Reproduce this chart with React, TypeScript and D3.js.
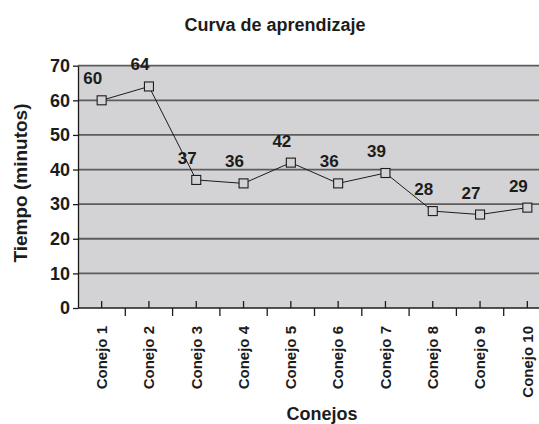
import { useEffect, useRef } from 'react';
import * as d3 from 'd3';

// chart data
const conejos = ['Conejo 1', 'Conejo 2', 'Conejo 3', 'Conejo 4', 'Conejo 5', 'Conejo 6', 'Conejo 7', 'Conejo 8', 'Conejo 9', 'Conejo 10'];
const tiempos = [60, 64, 37, 36, 42, 36, 39, 28, 27, 29];
const yTicks = [0, 10, 20, 30, 40, 50, 60, 70];

const App = () => {
  const chartRef = useRef<HTMLDivElement>(null);

  useEffect(() => {
    d3.select(chartRef.current).selectAll('*').remove();

    const width = 539;
    const height = 424;
    const left = 78;
    const right = 551;
    const top = 65.7;
    const bottom = 308;
    const font = 'Arial, "Liberation Sans", sans-serif';
    const ink = '#1c1c1c';

    const svg = d3.select(chartRef.current)
      .append('svg')
      .attr('width', width)
      .attr('height', height)
      .style('display', 'block')
      .style('background', '#fff');

    // scales
    const x = d3.scaleBand().domain(conejos).range([left, right]);
    const y = d3.scaleLinear().domain([0, 70]).range([bottom, top]);

    // plot area
    svg.append('rect')
      .attr('x', left)
      .attr('y', top)
      .attr('width', right - left)
      .attr('height', bottom - top)
      .attr('fill', '#d3d3d5');

    // gridlines
    svg.append('g')
      .selectAll('line')
      .data(yTicks.filter(d => d > 0))
      .join('line')
      .attr('x1', left)
      .attr('x2', right)
      .attr('y1', d => y(d))
      .attr('y2', d => y(d))
      .attr('stroke', '#5c5c5c')
      .attr('stroke-width', 1.8);

    // y axis
    const yAxis = svg.append('g')
      .attr('transform', `translate(${left},0)`)
      .call(d3.axisLeft(y).tickValues(yTicks).tickSize(5).tickPadding(3).tickSizeOuter(0));
    yAxis.select('.domain').attr('stroke', ink).attr('stroke-width', 1.3);
    yAxis.selectAll('.tick line').attr('stroke', ink).attr('stroke-width', 1.3);
    yAxis.selectAll('.tick text')
      .attr('fill', ink)
      .attr('font-family', font)
      .attr('font-weight', 'bold')
      .attr('font-size', 18);

    // x axis baseline with ticks at the band edges
    svg.append('line')
      .attr('x1', left)
      .attr('x2', right)
      .attr('y1', bottom)
      .attr('y2', bottom)
      .attr('stroke', ink)
      .attr('stroke-width', 1.3);
    svg.append('g')
      .selectAll('line')
      .data(conejos.slice(1))
      .join('line')
      .attr('x1', d => x(d))
      .attr('x2', d => x(d))
      .attr('y1', bottom)
      .attr('y2', bottom + 8)
      .attr('stroke', ink)
      .attr('stroke-width', 1.3);
    // small ticks at band centres, inside the plot
    svg.append('g')
      .selectAll('line')
      .data(conejos)
      .join('line')
      .attr('x1', d => x(d) + x.bandwidth() / 2)
      .attr('x2', d => x(d) + x.bandwidth() / 2)
      .attr('y1', bottom - 7)
      .attr('y2', bottom)
      .attr('stroke', ink)
      .attr('stroke-width', 1.3);

    // x labels, rotated
    svg.append('g')
      .selectAll('text')
      .data(conejos)
      .join('text')
      .attr('transform', d => `translate(${x(d) + x.bandwidth() / 2},326) rotate(-90)`)
      .attr('text-anchor', 'end')
      .attr('dy', '0.35em')
      .attr('fill', ink)
      .attr('font-family', font)
      .attr('font-weight', 'bold')
      .attr('font-size', 15)
      .text(d => d);

    // line
    const line = d3.line<number>()
      .x((d, i) => x(conejos[i]) + x.bandwidth() / 2)
      .y(d => y(d));
    svg.append('path')
      .datum(tiempos)
      .attr('fill', 'none')
      .attr('stroke', ink)
      .attr('stroke-width', 1)
      .attr('d', line);

    // square markers
    svg.append('g')
      .selectAll('rect')
      .data(tiempos)
      .join('rect')
      .attr('x', (d, i) => x(conejos[i]) + x.bandwidth() / 2 - 4.5)
      .attr('y', d => y(d) - 4.5)
      .attr('width', 9)
      .attr('height', 9)
      .attr('fill', '#d3d3d5')
      .attr('stroke', ink)
      .attr('stroke-width', 1.1);

    // value labels
    svg.append('g')
      .selectAll('text')
      .data(tiempos)
      .join('text')
      .attr('x', (d, i) => x(conejos[i]) + x.bandwidth() / 2 - 9)
      .attr('y', d => y(d) - 16)
      .attr('text-anchor', 'middle')
      .attr('fill', ink)
      .attr('font-family', font)
      .attr('font-weight', 'bold')
      .attr('font-size', 17)
      .text(d => d);

    // titles
    svg.append('text')
      .attr('x', 275)
      .attr('y', 31)
      .attr('text-anchor', 'middle')
      .attr('fill', ink)
      .attr('font-family', font)
      .attr('font-weight', 'bold')
      .attr('font-size', 18)
      .text('Curva de aprendizaje');
    svg.append('text')
      .attr('x', 322)
      .attr('y', 420)
      .attr('text-anchor', 'middle')
      .attr('fill', ink)
      .attr('font-family', font)
      .attr('font-weight', 'bold')
      .attr('font-size', 18)
      .text('Conejos');
    svg.append('text')
      .attr('transform', 'translate(27,183) rotate(-90)')
      .attr('text-anchor', 'middle')
      .attr('fill', ink)
      .attr('font-family', font)
      .attr('font-weight', 'bold')
      .attr('font-size', 19)
      .text('Tiempo (minutos)');
  }, []);

  return (
    <div ref={chartRef} style={{ position: 'absolute', left: 0, top: 0 }}></div>
  );
};

export default App;
